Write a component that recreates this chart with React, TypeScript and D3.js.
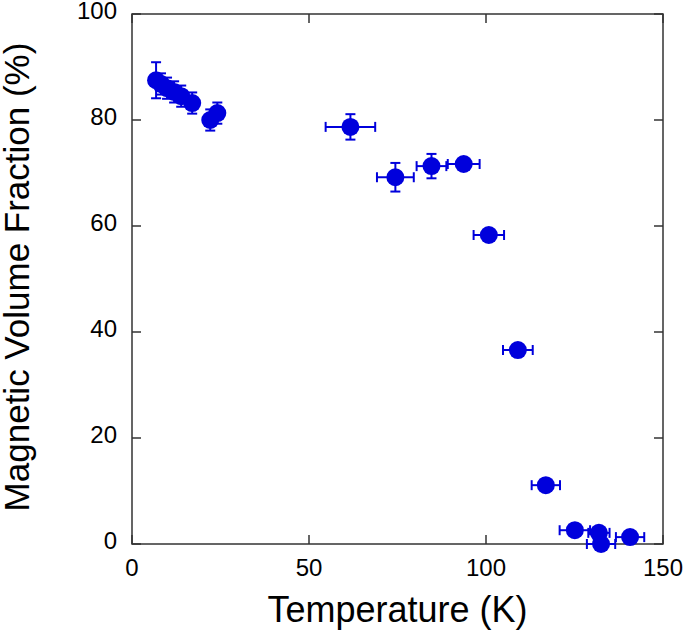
import React, { useEffect, useRef } from 'react';
import * as d3 from 'd3';

// temperature (K), volume fraction (%), and their error bars
const temps = [6.8, 8.2, 9.9, 11.9, 13.9, 17.0, 22.1, 24.1, 61.7, 74.4, 84.6, 93.7, 100.8, 109.0, 116.9, 125.1, 131.9, 132.5, 140.7];
const fractions = [87.5, 86.8, 86.0, 85.3, 84.5, 83.2, 80.0, 81.3, 78.7, 69.2, 71.3, 71.7, 58.3, 36.6, 11.1, 2.6, 2.1, 0.0, 1.3];
const tempErr = [1.5, 1.5, 1.5, 1.5, 1.5, 1.5, 1.5, 1.5, 7.0, 5.2, 4.2, 4.5, 4.3, 4.2, 4.0, 4.3, 3.0, 4.0, 4.0];
const fracErr = [3.4, 2.0, 2.0, 2.0, 2.0, 2.0, 2.0, 2.0, 2.4, 2.7, 2.3, 1.0, 1.0, 1.0, 1.0, 1.0, 1.0, 1.0, 1.0];
const xTicks = [0, 50, 100, 150];
const yTicks = [0, 20, 40, 60, 80, 100];

const App = () => {
  const ref = useRef<SVGSVGElement>(null);

  useEffect(() => {
    const width = 685;
    const height = 639;
    const left = 132, right = 663, top = 14, bottom = 544;
    const blue = '#0000dc';
    const font = 'Liberation Sans, Arial, sans-serif';

    const svg = d3.select(ref.current);
    svg.selectAll('*').remove();
    svg.attr('width', width).attr('height', height);

    const x = d3.scaleLinear().domain([0, 150]).range([left, right]);
    const y = d3.scaleLinear().domain([0, 100]).range([bottom, top]);

    const data = temps.map((t, i) => ({ t, f: fractions[i], dt: tempErr[i], df: fracErr[i] }));

    // frame
    svg.append('rect')
      .attr('x', left).attr('y', top)
      .attr('width', right - left).attr('height', bottom - top)
      .attr('fill', 'none').attr('stroke', '#333').attr('stroke-width', 1.5);

    const tickLen = 9;
    const ticks = svg.append('g').attr('stroke', '#333').attr('stroke-width', 1.5);
    xTicks.forEach(v => {
      ticks.append('line').attr('x1', x(v)).attr('x2', x(v)).attr('y1', bottom).attr('y2', bottom - tickLen);
      ticks.append('line').attr('x1', x(v)).attr('x2', x(v)).attr('y1', top).attr('y2', top + tickLen);
    });
    yTicks.forEach(v => {
      ticks.append('line').attr('x1', left).attr('x2', left + tickLen).attr('y1', y(v)).attr('y2', y(v));
      ticks.append('line').attr('x1', right).attr('x2', right - tickLen).attr('y1', y(v)).attr('y2', y(v));
    });

    // tick labels
    svg.selectAll('.xl').data(xTicks).join('text')
      .attr('x', d => x(d)).attr('y', bottom + 32)
      .attr('text-anchor', 'middle')
      .attr('font-family', font).attr('font-size', 24).attr('fill', '#000')
      .text(d => d);
    svg.selectAll('.yl').data(yTicks).join('text')
      .attr('x', left - 15).attr('y', d => y(d) + 5)
      .attr('text-anchor', 'end')
      .attr('font-family', font).attr('font-size', 24).attr('fill', '#000')
      .text(d => d);

    // axis titles
    svg.append('text')
      .attr('x', (left + right) / 2).attr('y', 622)
      .attr('text-anchor', 'middle')
      .attr('font-family', font).attr('font-size', 36).attr('fill', '#000')
      .text('Temperature (K)');
    svg.append('text')
      .attr('transform', `translate(29,${(top + bottom) / 2 - 2}) rotate(-90)`)
      .attr('text-anchor', 'middle')
      .attr('font-family', font).attr('font-size', 35).attr('fill', '#000')
      .text('Magnetic Volume Fraction (%)');

    // error bars
    const cap = 5;
    const eb = svg.append('g').attr('stroke', blue).attr('stroke-width', 2).attr('fill', 'none');
    data.forEach(d => {
      const cx = x(d.t), cy = y(d.f);
      const x0 = x(d.t - d.dt), x1 = x(d.t + d.dt);
      const y0 = y(d.f - d.df), y1 = y(d.f + d.df);
      eb.append('line').attr('x1', x0).attr('x2', x1).attr('y1', cy).attr('y2', cy);
      eb.append('line').attr('x1', x0).attr('x2', x0).attr('y1', cy - cap).attr('y2', cy + cap);
      eb.append('line').attr('x1', x1).attr('x2', x1).attr('y1', cy - cap).attr('y2', cy + cap);
      eb.append('line').attr('x1', cx).attr('x2', cx).attr('y1', y0).attr('y2', y1);
      eb.append('line').attr('x1', cx - cap).attr('x2', cx + cap).attr('y1', y0).attr('y2', y0);
      eb.append('line').attr('x1', cx - cap).attr('x2', cx + cap).attr('y1', y1).attr('y2', y1);
    });

    // markers
    svg.selectAll('.pt').data(data).join('circle')
      .attr('cx', d => x(d.t)).attr('cy', d => y(d.f))
      .attr('r', 9)
      .attr('fill', blue);
  }, []);

  return <svg ref={ref} style={{ position: 'absolute', left: 0, top: 0 }} />;
};

export default App;
